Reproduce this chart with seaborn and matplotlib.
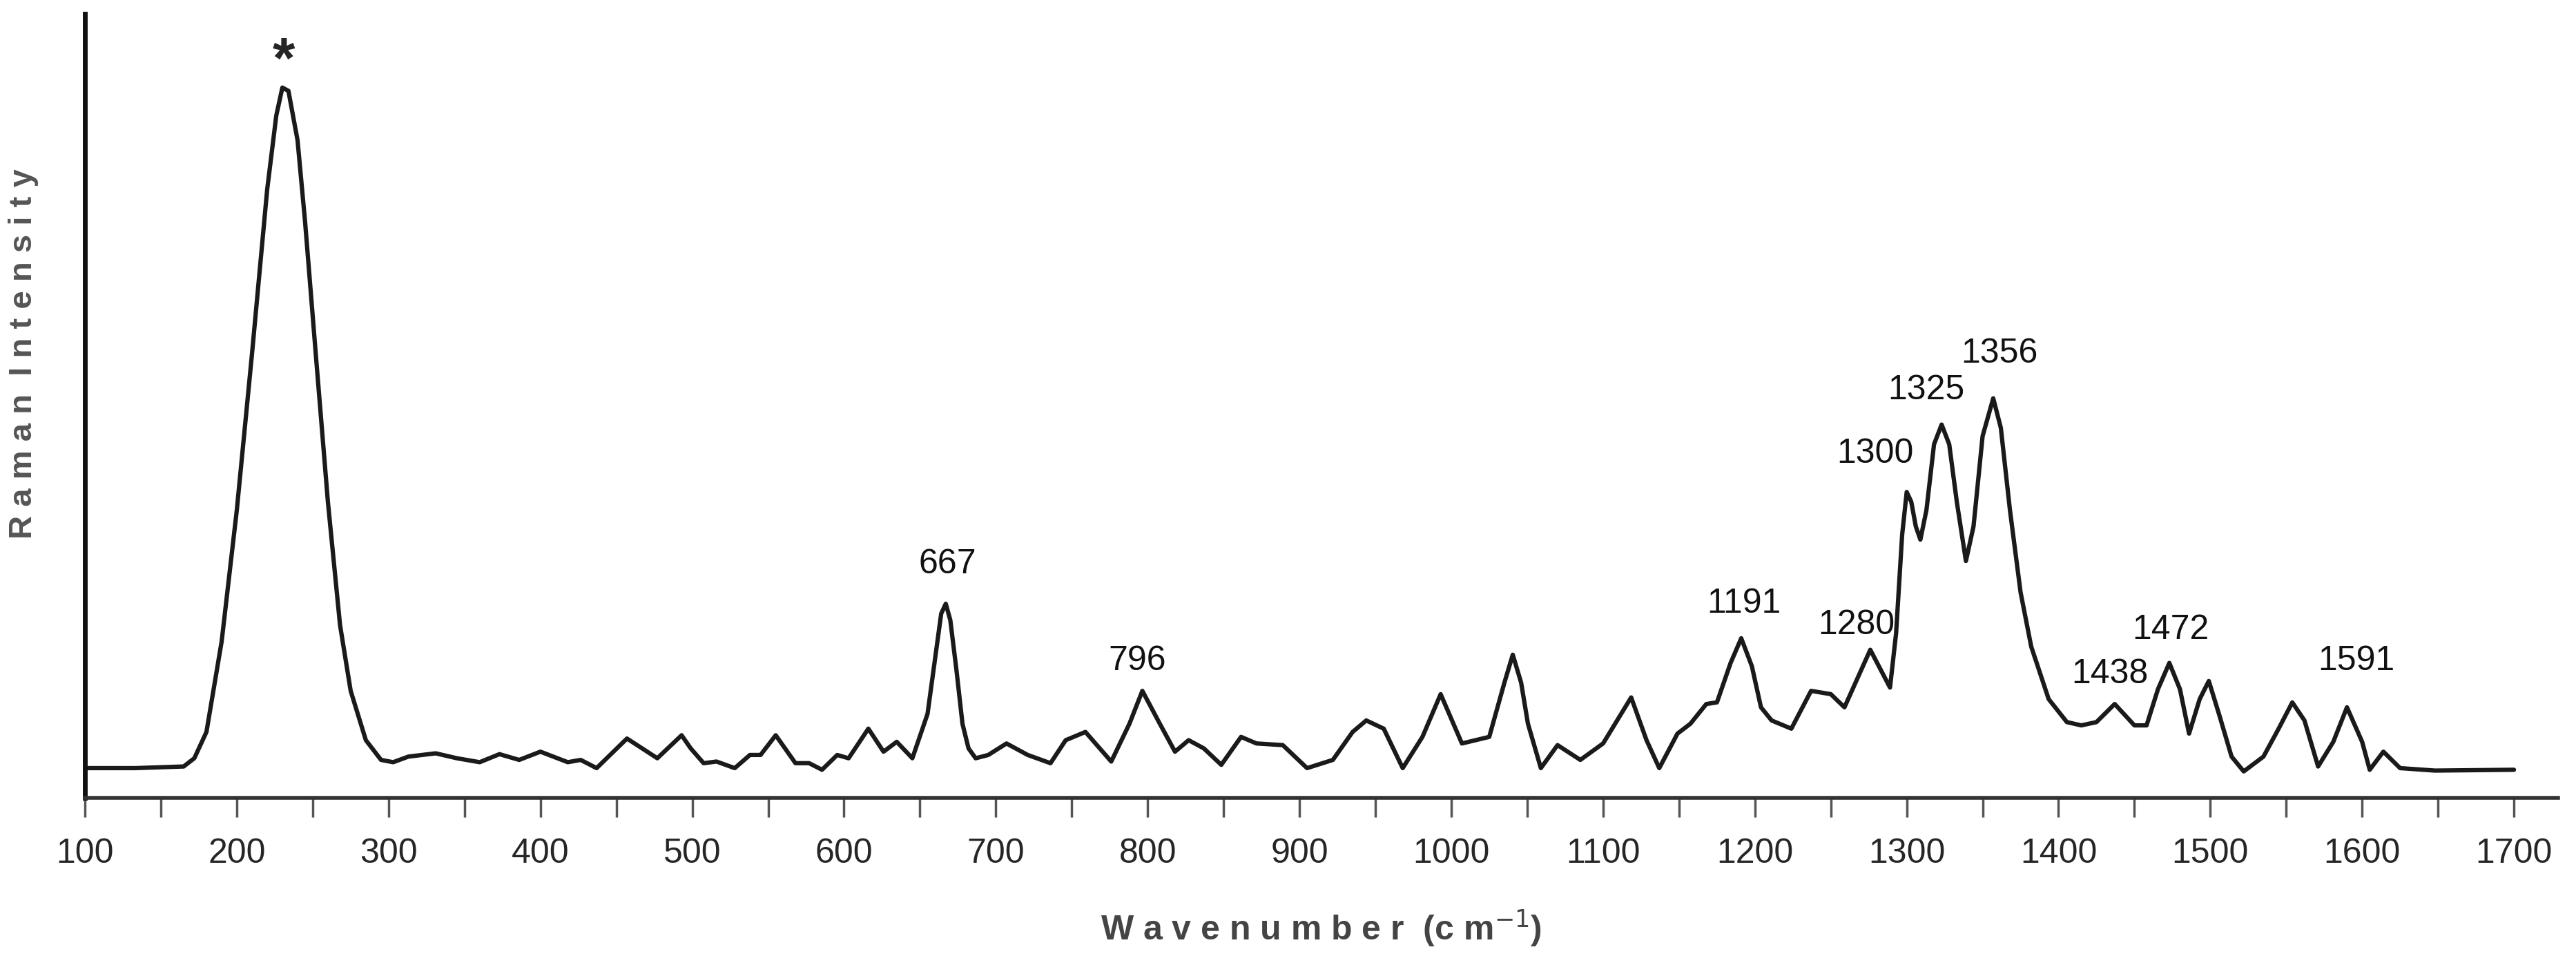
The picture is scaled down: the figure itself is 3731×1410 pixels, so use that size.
import matplotlib
matplotlib.use("Agg")
import matplotlib.pyplot as plt
import seaborn as sns
import pandas as pd

wavenumber = [100, 133, 165, 172, 180, 190, 200, 210, 220, 226, 230, 234, 240, 245, 252, 260, 268, 275, 285, 295,
              303, 313, 331, 345, 360,
              373, 386, 400, 418, 426.5, 437, 457, 477, 493, 499, 507.5, 516, 528, 538, 545, 555, 568, 577, 585.5,
              595.5, 603, 616, 626, 634.7, 645, 655, 660, 664, 667, 670, 674, 678, 682, 686.7, 695, 707, 721, 736,
              746, 759, 776, 788, 796.5,
              808, 818, 827, 837, 848.5, 861.5, 871.7, 889, 905, 922, 935, 944, 955.5, 968, 981, 993, 1007, 1025,
              1035, 1040.5, 1046, 1050.5, 1059, 1070, 1085, 1100, 1118.5, 1128.6, 1137, 1149, 1157.5, 1168, 1175,
              1184, 1191, 1198, 1204,
              1211, 1224, 1237, 1250, 1259, 1276, 1289, 1293, 1297, 1300, 1303, 1306, 1309, 1313, 1318, 1323, 1328,
              1333, 1339, 1344, 1350, 1357, 1362, 1368, 1375, 1382, 1393.5, 1405.5,
              1415, 1425, 1437, 1450, 1458, 1465.5, 1473, 1480, 1486, 1493, 1499, 1506, 1514, 1522, 1535, 1545, 1554,
              1562, 1571, 1581, 1590, 1600, 1605, 1614, 1625, 1648, 1700]
intensity = [18, 18, 19, 24, 40, 95, 175, 270, 370, 415, 432, 430, 400, 350, 270, 180, 105, 65, 35, 23,
             21.6, 25, 27, 24, 21.6,
             26.5, 23, 28, 21.6, 23, 18, 36, 24, 38, 30, 21, 22, 18, 26, 26, 38, 21, 21, 17,
             26, 24, 42, 28, 34, 24, 51, 85, 112, 118, 108, 78, 45, 30, 24, 26, 33, 26, 21,
             35, 40, 22, 45, 65,
             45, 28, 35, 30, 20, 37, 33, 32, 18, 23, 40, 47, 42, 18, 37, 63, 33, 37,
             70, 87, 70, 45, 18, 32, 23, 33, 61, 35, 18, 39, 45, 57, 58,
             82, 97, 80, 55,
             47, 42, 65, 63, 55, 90, 67, 100, 160, 186, 180, 165, 157, 175, 215, 227, 215,
             180, 144, 165, 220, 243, 225, 175, 125, 92, 60, 46,
             44, 46, 57, 44, 44, 66, 82, 66, 39, 60, 71, 50, 25, 16, 25, 42, 58,
             47, 19, 34, 55, 34, 17, 28, 18, 16.5, 17]

peak_labels = ["667", "796", "1191", "1280", "1300", "1325", "1356", "1438", "1472", "1591"]
label_x = [668, 793, 1193, 1267, 1279, 1313, 1361, 1434, 1474, 1596]
label_y = [142, 83, 118, 105, 209, 248, 270, 75, 102, 83]

sns.set_style("white")
plt.rcParams['font.family'] = ['Liberation Sans', 'DejaVu Sans']

df = pd.DataFrame({"w": wavenumber, "i": intensity})
fig = plt.figure(figsize=(37.31, 14.10), dpi=100)
ax = fig.add_axes([0.033, 0.181, 0.96, 0.805])
sns.lineplot(data=df, x="w", y="i", ax=ax, color="#1a1a1a", linewidth=4.5)

ax.set_xlim(100, 1729)
ax.set_ylim(0, 477)
for s in ["top", "right"]:
    ax.spines[s].set_visible(False)
ax.spines["left"].set_linewidth(5)
ax.spines["bottom"].set_linewidth(4)
ax.spines["left"].set_color("#111111")
ax.spines["bottom"].set_color("#333333")
ax.set_yticks([])
ax.set_xticks(range(100, 1701, 100))
ax.set_xticks(range(150, 1700, 100), minor=True)
ax.tick_params(axis="x", which="both", direction="out", length=20, width=2.5, color="#555555",
               labelsize=36, pad=22, bottom=True)
ax.set_xlabel("W a v e n u m b e r  (c m$^{-1}$)", fontsize=36, fontweight="bold", color="#444444", labelpad=40)
ax.set_ylabel("")
fig.text(0.009, 0.637, "R a m a n  I n t e n s i t y", rotation=90, fontsize=34, fontweight="bold",
         color="#555555", ha="center", va="center")

for t, x, y in zip(peak_labels, label_x, label_y):
    ax.text(x, y, t, fontsize=36, ha="center", va="center", color="#111111")
ax.text(231, 447, "*", fontsize=60, fontweight="bold", ha="center", va="center")

fig.savefig("out.png", dpi=100)
